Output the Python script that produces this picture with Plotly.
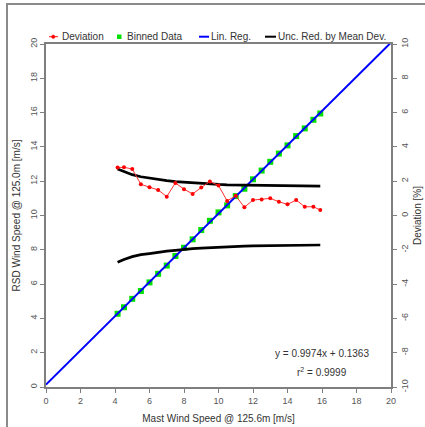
import plotly.graph_objects as go

# ---- data ----
mast_ws = [4.15, 4.52, 5.0, 5.5, 6.0, 6.5, 7.0, 7.5, 8.0, 8.5, 9.0, 9.5, 10.0,
           10.5, 11.0, 11.5, 12.0, 12.5, 13.0, 13.5, 14.0, 14.5, 15.0, 15.5, 15.9]
rsd_ws = [4.27, 4.65, 5.14, 5.60, 6.10, 6.60, 7.08, 7.64, 8.12, 8.61, 9.15, 9.69, 10.18,
          10.59, 11.13, 11.56, 12.11, 12.62, 13.13, 13.61, 14.09, 14.63, 15.08, 15.58, 15.95]
deviation = [2.80, 2.81, 2.71, 1.82, 1.65, 1.49, 1.10, 1.90, 1.53, 1.26, 1.63, 1.98, 1.75,
             0.85, 1.15, 0.48, 0.90, 0.94, 1.00, 0.80, 0.65, 0.90, 0.51, 0.51, 0.32]
unc_upper = [2.71, 2.55, 2.38, 2.26, 2.17, 2.09, 2.03, 1.97, 1.93, 1.89, 1.86, 1.84, 1.81,
             1.79, 1.78, 1.77, 1.76, 1.75, 1.74, 1.73, 1.73, 1.72, 1.72, 1.71, 1.71]
unc_lower = [-2.72, -2.56, -2.40, -2.28, -2.22, -2.14, -2.08, -2.03, -1.97, -1.93, -1.90, -1.87, -1.84,
             -1.82, -1.80, -1.79, -1.77, -1.76, -1.75, -1.74, -1.73, -1.73, -1.72, -1.72, -1.72]
slope = 0.9974
intercept = 0.1363
r2 = 0.9999
reg_x = [0, 20]
x_ticks = [0, 2, 4, 6, 8, 10, 12, 14, 16, 18, 20]
y_ticks = [0, 2, 4, 6, 8, 10, 12, 14, 16, 18, 20]
dev_ticks = [-10, -8, -6, -4, -2, 0, 2, 4, 6, 8, 10]

W, H = 425, 427
L, R, T, B = 46, 391, 44, 387  # plot box in pixels


def px(xp):
    return (xp - L) / (R - L)


def py(yp):
    return (B - yp) / (B - T)


TXT = "#333333"
AX = "#7f7f7f"
FONT = "Liberation Sans, Arial, sans-serif"

fig = go.Figure()

# uncertainty curves (deviation axis)
fig.add_trace(go.Scatter(x=mast_ws, y=unc_upper, yaxis="y2", mode="lines",
                         line=dict(color="black", width=2.7), showlegend=False))
fig.add_trace(go.Scatter(x=mast_ws, y=unc_lower, yaxis="y2", mode="lines",
                         line=dict(color="black", width=2.7), showlegend=False))
# deviation
fig.add_trace(go.Scatter(x=mast_ws, y=deviation, yaxis="y2", mode="lines+markers",
                         line=dict(color="#ff3030", width=1),
                         marker=dict(color="#ff0000", size=4), showlegend=False))
# binned data
fig.add_trace(go.Scatter(x=mast_ws, y=rsd_ws, mode="markers",
                         marker=dict(color="#00e000", symbol="square", size=6),
                         showlegend=False))
# linear regression
reg_y = [slope * v + intercept for v in reg_x]
fig.add_trace(go.Scatter(x=reg_x, y=reg_y, mode="lines",
                         line=dict(color="#0000ff", width=2), showlegend=False))

axis_common = dict(showgrid=False, zeroline=False, showline=True, linecolor=AX,
                   linewidth=1.5, ticks="outside", ticklen=4, tickcolor=AX, automargin=False,
                   tickwidth=1, tickfont=dict(size=9, color="#555555", family=FONT))

fig.update_layout(
    width=W, height=H,
    margin=dict(l=L, r=W - R, t=T, b=H - B, autoexpand=False),
    paper_bgcolor="white", plot_bgcolor="white",
    font=dict(family=FONT, color=TXT),
    xaxis=dict(range=[0, 20], tickvals=x_ticks, ticktext=[str(v) for v in x_ticks], mirror=True,
               title=dict(text="Mast Wind Speed @ 125.6m [m/s]", font=dict(size=10, color=TXT),
                          standoff=10),
               **axis_common),
    yaxis=dict(range=[0, 20], tickvals=y_ticks, ticktext=[str(v) for v in y_ticks], tickangle=-90,
               title=dict(text="RSD Wind Speed @ 125.0m [m/s]", font=dict(size=10, color=TXT),
                          standoff=6),
               **axis_common),
    yaxis2=dict(range=[-10, 10], tickvals=dev_ticks, ticktext=[str(v) for v in dev_ticks],
                tickangle=-90, overlaying="y", side="right",
                title=dict(text="Deviation [%]", font=dict(size=10, color=TXT), standoff=5),
                **axis_common),
    showlegend=False,
)

# outer frame
fig.add_shape(type="rect", xref="paper", yref="paper", x0=px(7), x1=px(440),
              y0=py(440), y1=py(4), line=dict(color="#8a8a8a", width=2), layer="below")

# manual legend
ly = py(36.7)
fs = 10
fig.add_shape(type="line", xref="paper", yref="paper", x0=px(49), x1=px(58), y0=ly, y1=ly,
              line=dict(color="#ff2020", width=1))
fig.add_shape(type="circle", xref="paper", yref="paper", x0=px(51.5), x1=px(55), y0=py(38.5),
              y1=py(35), fillcolor="#ff0000", line=dict(color="#ff0000", width=0.5))
fig.add_annotation(x=px(60), y=ly, xref="paper", yref="paper", text="Deviation",
                   showarrow=False, xanchor="left", yanchor="middle",
                   font=dict(size=fs, color=TXT))
fig.add_shape(type="rect", xref="paper", yref="paper", x0=px(117), x1=px(121.5), y0=py(39),
              y1=py(34.5), fillcolor="#00e000", line=dict(width=0))
fig.add_annotation(x=px(125), y=ly, xref="paper", yref="paper", text="Binned Data",
                   showarrow=False, xanchor="left", yanchor="middle",
                   font=dict(size=fs, color=TXT))
fig.add_shape(type="line", xref="paper", yref="paper", x0=px(199), x1=px(209), y0=ly, y1=ly,
              line=dict(color="#0000ff", width=2))
fig.add_annotation(x=px(209), y=ly, xref="paper", yref="paper", text="Lin. Reg.",
                   showarrow=False, xanchor="left", yanchor="middle",
                   font=dict(size=fs, color=TXT))
fig.add_shape(type="line", xref="paper", yref="paper", x0=px(265), x1=px(276), y0=ly, y1=ly,
              line=dict(color="black", width=2))
fig.add_annotation(x=px(276), y=ly, xref="paper", yref="paper", text="Unc. Red. by Mean Dev.",
                   showarrow=False, xanchor="left", yanchor="middle",
                   font=dict(size=fs, color=TXT))

# regression equation
fig.add_annotation(x=px(322), y=py(353), xref="paper", yref="paper",
                   text=f"y = {slope:.4f}x + {intercept:.4f}", showarrow=False,
                   xanchor="center", yanchor="middle", font=dict(size=10, color=TXT))
fig.add_annotation(x=px(322), y=py(372), xref="paper", yref="paper",
                   text=f"r<sup>2</sup> = {r2:.4f}", showarrow=False,
                   xanchor="center", yanchor="middle", font=dict(size=10, color=TXT))

fig.write_html("out.html")
